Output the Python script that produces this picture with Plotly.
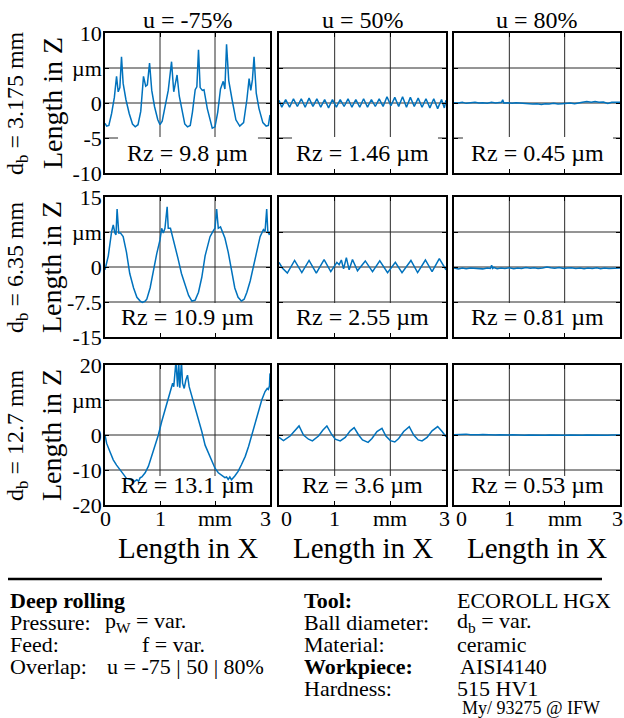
import plotly.graph_objects as go

# ---------------------------------------------------------------
# Surface profiles after deep rolling (AISI4140, ECOROLL HGX)
# rows: ball diameter d_b, columns: overlap u
# ---------------------------------------------------------------
overlap_titles = ["u = -75%", "u = 50%", "u = 80%"]
ball_labels = ["d<sub>b</sub> = 3.175 mm", "d<sub>b</sub> = 6.35 mm", "d<sub>b</sub> = 12.7 mm"]
rz_values = [[9.8, 1.46, 0.45], [10.9, 2.55, 0.81], [13.1, 3.6, 0.53]]
z_limits = [10, 15, 20]
z_ticktext = [["-10", "-5", "0", "µm", "10"],
              ["-15", "-7.5", "0", "µm", "15"],
              ["-20", "-10", "0", "µm", "20"]]
x_tickvals = [0, 1, 2, 3]
x_ticktext = ["0", "1", "mm", "3"]

# d_b = 3.175 mm
x_d3_u75 = [0.00, 0.03, 0.07, 0.12, 0.17, 0.21, 0.24, 0.27, 0.30, 0.33,
            0.38, 0.44, 0.50, 0.55, 0.60, 0.65, 0.70, 0.74, 0.77, 0.81,
            0.85, 0.90, 0.96, 1.00, 1.04, 1.09, 1.15, 1.21, 1.25, 1.28,
            1.31, 1.35, 1.40, 1.45, 1.50, 1.55, 1.59, 1.64, 1.67, 1.70,
            1.73, 1.77, 1.80, 1.86, 1.95, 2.00, 2.05, 2.10, 2.15, 2.18,
            2.21, 2.25, 2.31, 2.38, 2.45, 2.52, 2.58, 2.62, 2.65, 2.68,
            2.71, 2.75, 2.80, 2.87, 2.93, 2.97, 3.00]
z_d3_u75 = [-2.9, -3.3, -3.2, -1.5, 0.8, 3.8, 1.6, 2.2, 6.6, 2.8,
            0.5, -1.5, -3.0, -3.4, -3.1, -1.2, 3.8, 2.4, 2.6, 5.7,
            1.8, -0.5, -2.4, -3.1, -2.6, -0.5, 1.8, 5.9, 1.6, 2.8,
            4.0, 1.0, -1.2, -3.0, -3.4, -3.2, -1.3, 1.9, 2.3, 7.6,
            2.2, 1.8, 1.9, -0.8, -3.6, -3.4, -1.3, 2.0, 3.1, 2.0,
            8.4, 3.2, 0.5, -2.4, -3.3, -2.8, 0.5, 3.5, 1.8, 3.3,
            6.6, 1.4, -0.8, -2.8, -3.3, -3.2, -1.7]

x_d3_u50 = [0.00, 0.05, 0.12, 0.19, 0.26, 0.33, 0.40, 0.47, 0.54, 0.61,
            0.68, 0.75, 0.82, 0.89, 0.96, 1.03, 1.10, 1.17, 1.24, 1.31,
            1.38, 1.45, 1.52, 1.59, 1.66, 1.73, 1.80, 1.87, 1.94, 2.01,
            2.08, 2.15, 2.22, 2.29, 2.36, 2.43, 2.50, 2.57, 2.64, 2.71,
            2.78, 2.85, 2.92, 2.97, 3.00]
z_d3_u50 = [0.4, -0.6, 0.5, -0.6, 0.6, -0.5, 0.6, -0.6, 0.7, -0.5,
            0.6, -0.6, 0.5, -0.7, 0.5, -0.6, 0.5, -0.5, 0.6, -0.6,
            0.5, -0.6, 0.6, -0.6, 0.5, -0.5, 0.6, -0.5, 0.9, -0.4,
            0.8, -0.5, 0.9, -0.6, 0.8, -0.5, 0.7, -0.6, 0.6, -0.7,
            0.6, -0.8, 0.5, -0.7, 0.4]

x_d3_u80 = [0.0, 0.08, 0.15, 0.22, 0.3, 0.38, 0.45, 0.52, 0.6, 0.68,
            0.75, 0.82, 0.86, 0.88, 0.9, 0.97, 1.05, 1.12, 1.2, 1.28,
            1.35, 1.42, 1.5, 1.58, 1.65, 1.72, 1.8, 1.88, 1.95, 2.02,
            2.1, 2.18, 2.25, 2.32, 2.4, 2.48, 2.55, 2.62, 2.7, 2.78,
            2.85, 2.92, 3.0]
z_d3_u80 = [0.05, 0.0, 0.1, -0.05, 0.05, 0.1, 0.0, 0.05, -0.05, 0.1,
            0.0, 0.05, 0.1, 0.45, 0.0, 0.05, -0.05, 0.05, 0.0, -0.1,
            -0.05, -0.15, -0.1, -0.2, -0.1, -0.15, -0.05, -0.15, -0.1, -0.05,
            0.0, -0.1, 0.05, 0.1, 0.2, 0.1, 0.2, 0.1, 0.15, -0.05,
            0.1, 0.05, 0.1]

# d_b = 6.35 mm
x_d6_u75 = [0.00, 0.06, 0.12, 0.15, 0.18, 0.20, 0.22, 0.25, 0.28, 0.33,
            0.39, 0.45, 0.52, 0.58, 0.64, 0.68, 0.73, 0.76, 0.82, 0.88,
            0.94, 1.00, 1.03, 1.06, 1.09, 1.13, 1.15, 1.19, 1.23, 1.27,
            1.33, 1.39, 1.45, 1.52, 1.58, 1.64, 1.70, 1.76, 1.82, 1.91,
            1.96, 2.00, 2.03, 2.06, 2.10, 2.14, 2.18, 2.24, 2.30, 2.36,
            2.42, 2.48, 2.53, 2.58, 2.64, 2.70, 2.76, 2.82, 2.88, 2.91,
            2.94, 2.96, 2.99, 3.00]
z_d6_u75 = [-0.6, 2.4, 7.6, 9.0, 7.3, 6.9, 12.4, 7.3, 7.3, 6.5,
            3.2, -1.4, -4.5, -6.5, -7.3, -7.6, -7.3, -6.9, -4.5, -0.6,
            2.8, 5.8, 8.3, 7.3, 8.3, 12.9, 8.3, 8.3, 6.5, 4.7,
            1.7, -1.4, -3.8, -6.1, -7.3, -7.1, -5.4, -2.2, 2.4, 6.5,
            7.6, 8.3, 12.4, 8.3, 8.6, 7.3, 6.2, 3.2, -0.6, -4.5,
            -6.5, -7.3, -6.9, -5.4, -3.0, 0.2, 3.6, 6.5, 8.0, 7.6,
            12.4, 7.6, 6.9, 7.3]

x_d6_u50 = [0.00, 0.06, 0.15, 0.28, 0.41, 0.54, 0.67, 0.81, 0.93, 1.04,
            1.08, 1.12, 1.16, 1.21, 1.26, 1.32, 1.41, 1.47, 1.55, 1.68,
            1.81, 1.95, 2.09, 2.21, 2.37, 2.49, 2.63, 2.75, 2.88, 3.00]
z_d6_u50 = [1.0, -0.2, -1.3, 1.4, -1.2, 1.4, -1.3, 1.6, -1.0, 1.0,
            0.5, 1.5, -0.4, 2.0, -0.6, 1.6, -0.8, 0.0, 1.3, -1.0,
            1.3, -1.2, 1.0, -1.2, 1.4, -1.2, 1.5, -1.0, 1.8, -0.6]

x_d6_u80 = [0.0, 0.08, 0.15, 0.22, 0.3, 0.38, 0.45, 0.52, 0.6, 0.66,
            0.68, 0.7, 0.72, 0.78, 0.85, 0.92, 1.0, 1.08, 1.15, 1.22,
            1.3, 1.38, 1.45, 1.52, 1.6, 1.68, 1.75, 1.82, 1.9, 1.98,
            2.05, 2.12, 2.2, 2.28, 2.35, 2.42, 2.5, 2.58, 2.65, 2.72,
            2.8, 2.88, 2.95, 3.0]
z_d6_u80 = [-0.2, -0.4, -0.2, -0.35, -0.2, -0.3, -0.25, -0.4, -0.2, -0.3,
            0.4, -0.3, -0.1, -0.35, -0.2, -0.3, -0.15, -0.35, -0.2, -0.3,
            -0.1, -0.25, -0.15, -0.3, -0.2, 0.0, -0.15, -0.25, -0.1, -0.3,
            -0.2, -0.15, -0.3, -0.2, -0.35, -0.2, -0.3, -0.15, -0.35, -0.2,
            -0.3, -0.25, -0.35, -0.2]

# d_b = 12.7 mm
x_d12_u75 = [0.00, 0.03, 0.09, 0.15, 0.21, 0.27, 0.33, 0.39, 0.44, 0.48,
             0.53, 0.58, 0.61, 0.64, 0.67, 0.73, 0.79, 0.85, 0.91, 0.97,
             1.03, 1.09, 1.15, 1.19, 1.23, 1.25, 1.27, 1.29, 1.32, 1.34,
             1.36, 1.39, 1.41, 1.44, 1.47, 1.50, 1.53, 1.58, 1.64, 1.70,
             1.76, 1.82, 1.88, 1.94, 2.00, 2.06, 2.12, 2.18, 2.21, 2.24,
             2.27, 2.30, 2.36, 2.42, 2.48, 2.55, 2.61, 2.67, 2.73, 2.79,
             2.85, 2.91, 2.95, 2.97, 2.99, 3.00]
z_d12_u75 = [0.0, -2.4, -4.8, -7.1, -8.6, -10.0, -11.1, -12.4, -12.6, -12.8,
             -13.3, -12.8, -13.2, -12.2, -12.0, -10.8, -8.9, -6.1, -3.3, 0.0,
             3.8, 7.1, 10.5, 13.3, 14.8, 13.8, 18.6, 21.0, 13.8, 21.0,
             13.5, 21.0, 14.8, 13.3, 15.7, 17.1, 13.8, 11.0, 8.1, 4.8,
             1.0, -2.9, -5.2, -7.6, -9.5, -10.8, -11.5, -12.2, -12.0, -12.7,
             -12.0, -12.8, -11.7, -10.4, -8.5, -6.1, -3.3, 0.0, 3.8, 7.1,
             10.0, 12.4, 13.3, 13.0, 14.0, 17.6]

x_d12_u50 = [0.00, 0.08, 0.20, 0.29, 0.36, 0.44, 0.53, 0.60, 0.71, 0.79,
             0.86, 0.94, 1.01, 1.10, 1.19, 1.28, 1.35, 1.43, 1.50, 1.60,
             1.67, 1.76, 1.85, 1.92, 2.00, 2.08, 2.15, 2.24, 2.34, 2.42,
             2.50, 2.57, 2.66, 2.75, 2.85, 2.93, 3.00]
z_d12_u50 = [-0.7, -1.6, -0.3, 1.4, 2.6, 0.0, -1.2, -1.7, -0.3, 1.4,
             2.6, 0.3, -1.2, -1.7, -0.7, 1.2, 2.1, 0.0, -1.4, -2.1,
             -1.0, 1.0, 1.9, -0.3, -1.6, -2.0, -1.0, 1.0, 2.4, 0.0,
             -1.4, -1.7, -0.7, 1.2, 2.4, 1.0, -0.5]

x_d12_u80 = [0.0, 0.08, 0.15, 0.22, 0.3, 0.38, 0.45, 0.52, 0.6, 0.68,
             0.75, 0.82, 0.9, 0.97, 1.05, 1.12, 1.2, 1.28, 1.35, 1.42,
             1.5, 1.58, 1.65, 1.72, 1.8, 1.88, 1.95, 2.02, 2.1, 2.18,
             2.25, 2.32, 2.4, 2.48, 2.55, 2.62, 2.7, 2.78, 2.85, 2.92,
             3.0]
z_d12_u80 = [0.1, 0.2, 0.15, 0.25, 0.1, 0.2, 0.1, 0.15, 0.05, 0.1,
             0.0, 0.05, -0.05, 0.0, 0.05, -0.05, 0.0, -0.1, 0.0, -0.05,
             0.05, 0.0, -0.1, 0.0, -0.05, 0.05, -0.1, -0.05, 0.0, -0.1,
             -0.05, -0.1, 0.0, -0.05, 0.05, -0.05, 0.0, -0.1, 0.0, -0.05,
             0.0]

profiles = [
    [(x_d3_u75, z_d3_u75), (x_d3_u50, z_d3_u50), (x_d3_u80, z_d3_u80)],
    [(x_d6_u75, z_d6_u75), (x_d6_u50, z_d6_u50), (x_d6_u80, z_d6_u80)],
    [(x_d12_u75, z_d12_u75), (x_d12_u50, z_d12_u50), (x_d12_u80, z_d12_u80)],
]

# ---------------------------------------------------------------
# page geometry (pixels)
# ---------------------------------------------------------------
W, H = 624, 718
col_px = [(105, 270), (279, 446), (454, 620)]
row_px = [(33, 173), (197, 337), (365, 505)]
FONT = "Liberation Serif"
BLUE = "#0072BD"
GRID = "#2b2b2b"

# white label boxes behind the Rz text: top edge in data units, x extent in domain
box_top = [-4.85, -7.7, -11.7]
box_x = [[(0.079, 0.927), (0.078, 0.952), (0.054, 0.958)],
         [(0.0, 1.0)] * 3,
         [(0.0, 1.0)] * 3]

# horizontal pixel nudges of the x tick labels (edge labels sit inside the frame)
x_label_shift = [[0, 0, 0, -5], [7, 0, 0, -2], [7, 0, 0, -3]]


def px_x(p):
    return p / W


def px_y(p):
    return 1 - p / H


fig = go.Figure()
shapes = []
annotations = []

for r in range(3):
    lim = z_limits[r]
    yticks = [-lim, -lim / 2, 0, lim / 2, lim]
    for c in range(3):
        n = r * 3 + 1 + c
        suffix = "" if n == 1 else str(n)
        xref, yref = "x" + suffix, "y" + suffix
        xs, zs = profiles[r][c]
        fig.add_trace(go.Scatter(
            x=xs, y=zs, mode="lines",
            line=dict(color=BLUE, width=1.5),
            xaxis=xref, yaxis=yref,
            showlegend=False, hoverinfo="skip",
        ))
        axis_common = dict(
            showline=True, linecolor="black", linewidth=1.5, mirror="ticks",
            ticks="inside", ticklen=4, tickwidth=1, tickcolor="black",
            showgrid=False, zeroline=False, automargin=False,
            tickfont=dict(family=FONT, size=22, color="black"),
        )
        fig.layout["xaxis" + suffix] = dict(
            axis_common,
            domain=[px_x(col_px[c][0]), px_x(col_px[c][1])],
            range=[0, 3], anchor=yref,
            tickmode="array", tickvals=x_tickvals, showticklabels=False,
        )
        fig.layout["yaxis" + suffix] = dict(
            axis_common,
            domain=[px_y(row_px[r][1]), px_y(row_px[r][0])],
            range=[-lim, lim], anchor=xref,
            tickmode="array", tickvals=yticks, ticktext=z_ticktext[r],
            showticklabels=(c == 0), ticklabelstandoff=-3,
        )
        # grid lines at the inner tick positions, drawn beneath the label box
        for xv in x_tickvals[1:-1]:
            shapes.append(dict(
                type="line", xref=xref, yref=yref + " domain",
                x0=xv, x1=xv, y0=0, y1=1,
                line=dict(color=GRID, width=1), layer="below",
            ))
        for yv in yticks[1:-1]:
            shapes.append(dict(
                type="line", xref=xref + " domain", yref=yref,
                x0=0, x1=1, y0=yv, y1=yv,
                line=dict(color=GRID, width=1), layer="below",
            ))
        bx0, bx1 = box_x[r][c]
        shapes.append(dict(
            type="rect", xref=xref + " domain", yref=yref,
            x0=bx0, x1=bx1, y0=-lim, y1=box_top[r],
            fillcolor="white", line=dict(width=0), layer="below",
        ))
        annotations.append(dict(
            xref=xref + " domain", yref=yref + " domain",
            x=0.5, y=20 / 140, xanchor="center", yanchor="middle",
            text=f"Rz = {rz_values[r][c]} µm", showarrow=False,
            font=dict(family=FONT, size=24, color="black"),
        ))
        # x tick labels along the bottom row
        if r == 2:
            for k, (xv, lab) in enumerate(zip(x_tickvals, x_ticktext)):
                annotations.append(dict(
                    xref=xref, yref="paper", x=xv, y=px_y(518),
                    xanchor="center", yanchor="middle", xshift=x_label_shift[c][k],
                    text=lab, showarrow=False,
                    font=dict(family=FONT, size=22, color="black"),
                ))

# column titles and x-axis names
for c in range(3):
    cx = px_x((col_px[c][0] + col_px[c][1]) / 2)
    annotations.append(dict(
        xref="paper", yref="paper", x=cx, y=px_y(20), xanchor="center", yanchor="middle",
        text=overlap_titles[c], showarrow=False,
        font=dict(family=FONT, size=24, color="black"),
    ))
    annotations.append(dict(
        xref="paper", yref="paper", x=cx, y=px_y(548), xanchor="center", yanchor="middle",
        text="Length in X", showarrow=False,
        font=dict(family=FONT, size=29, color="black"),
    ))

# row labels and z-axis names
for r in range(3):
    cy = px_y((row_px[r][0] + row_px[r][1]) / 2)
    annotations.append(dict(
        xref="paper", yref="paper", x=px_x(17), y=cy, xanchor="center", yanchor="middle",
        text=ball_labels[r], textangle=-90, showarrow=False,
        font=dict(family=FONT, size=24, color="black"),
    ))
    annotations.append(dict(
        xref="paper", yref="paper", x=px_x(52), y=cy, xanchor="center", yanchor="middle",
        text="Length in Z", textangle=-90, showarrow=False,
        font=dict(family=FONT, size=28, color="black"),
    ))

# process description below the charts
shapes.append(dict(
    type="line", xref="paper", yref="paper",
    x0=px_x(8), x1=px_x(602), y0=px_y(579), y1=px_y(579),
    line=dict(color="black", width=2.5),
))

info_lines = [
    (8, 600, "<b>Deep rolling</b>", 22),
    (8, 622, "Pressure:", 22),
    (103, 622, "p<sub>W</sub> = var.", 22),
    (8, 644, "Feed:", 22),
    (140, 644, "f = var.", 22),
    (8, 666, "Overlap:", 22),
    (105, 666, "u = -75 | 50 | 80%", 22),
    (302, 600, "<b>Tool:</b>", 22),
    (455, 600, "ECOROLL HGX", 22),
    (302, 622, "Ball diameter:", 22),
    (455, 622, "d<sub>b</sub> = var.", 22),
    (302, 644, "Material:", 22),
    (455, 644, "ceramic", 22),
    (302, 666, "<b>Workpiece:</b>", 22),
    (458, 666, "AISI4140", 22),
    (302, 688, "Hardness:", 22),
    (455, 688, "515 HV1", 22),
    (460, 708, "My/ 93275 @ IFW", 18),
]
for x_px, y_px, txt, size in info_lines:
    annotations.append(dict(
        xref="paper", yref="paper", x=px_x(x_px), y=px_y(y_px),
        xanchor="left", yanchor="middle", text=txt, showarrow=False,
        font=dict(family=FONT, size=size, color="black"),
    ))

fig.update_layout(
    width=W, height=H,
    margin=dict(l=0, r=0, t=0, b=0),
    paper_bgcolor="white", plot_bgcolor="white",
    shapes=shapes, annotations=annotations,
    font=dict(family=FONT, color="black"),
)

fig.write_html("out.html")
